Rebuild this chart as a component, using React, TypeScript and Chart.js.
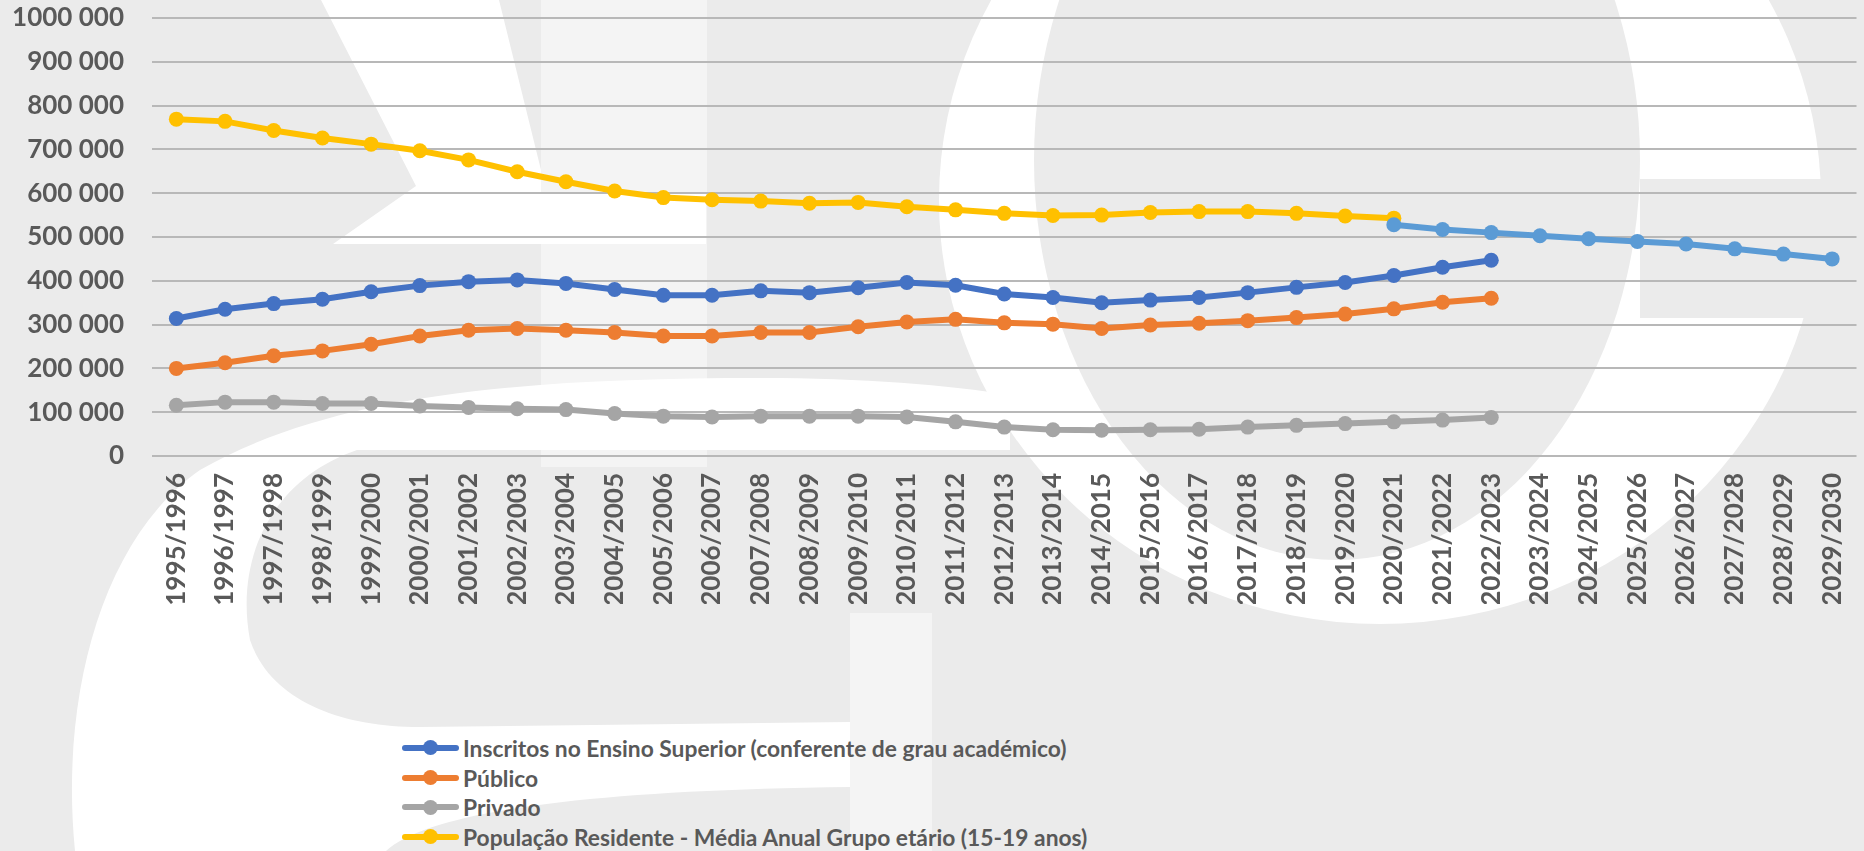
import React, { useEffect, useRef } from "react";
import { Chart, registerables } from "chart.js";
Chart.register(...registerables);

const categories = [
  "1995/1996", "1996/1997", "1997/1998", "1998/1999", "1999/2000", "2000/2001", "2001/2002",
  "2002/2003", "2003/2004", "2004/2005", "2005/2006", "2006/2007", "2007/2008", "2008/2009",
  "2009/2010", "2010/2011", "2011/2012", "2012/2013", "2013/2014", "2014/2015", "2015/2016",
  "2016/2017", "2017/2018", "2018/2019", "2019/2020", "2020/2021", "2021/2022", "2022/2023",
  "2023/2024", "2024/2025", "2025/2026", "2026/2027", "2027/2028", "2028/2029", "2029/2030",
];

const inscritos = [
  314000, 335000, 348000, 358000, 375000, 389000, 398000, 402000, 394000, 380000, 367000, 367000,
  377000, 373000, 384000, 396000, 390000, 370000, 362000, 350000, 356000, 362000, 373000, 385000,
  396000, 412000, 431000, 447000,
];
const publico = [
  200000, 213000, 229000, 240000, 255000, 274000, 287000, 291000, 287000, 282000, 274000, 274000,
  282000, 282000, 295000, 306000, 312000, 304000, 301000, 291000, 299000, 303000, 309000, 316000,
  324000, 336000, 351000, 360000,
];
const privado = [
  116000, 123000, 123000, 120000, 120000, 114000, 111000, 108000, 106000, 97000, 91000, 89000,
  91000, 91000, 91000, 89000, 78000, 66000, 60000, 59000, 60000, 61000, 66000, 70000, 74000,
  78000, 82000, 88000,
];
const populacao = [
  769000, 764000, 743000, 726000, 712000, 697000, 676000, 649000, 626000, 605000, 590000, 585000,
  582000, 577000, 579000, 569000, 562000, 554000, 549000, 550000, 556000, 558000, 558000, 554000,
  548000, 543000,
];
// projection (from 2020/2021 onward)
const projecaoStart = 25;
const projecao = [528000, 517000, 510000, 503000, 496000, 490000, 484000, 473000, 461000, 450000];

const yTickLabels = [
  "0", "100 000", "200 000", "300 000", "400 000", "500 000",
  "600 000", "700 000", "800 000", "900 000", "1000 000",
];

const seriesNames = [
  "Inscritos no Ensino Superior (conferente de grau académico)",
  "Público",
  "Privado",
  "População Residente - Média Anual Grupo etário (15-19 anos)",
];
const seriesColors = ["#4472C4", "#ED7D31", "#A5A5A5", "#FFC000"];
const projecaoColor = "#5B9BD5";

function pad(arr: number[], start: number, total: number): (number | null)[] {
  const out: (number | null)[] = [];
  for (let i = 0; i < total; i++) {
    const j = i - start;
    out.push(j >= 0 && j < arr.length ? arr[j] : null);
  }
  return out;
}

const GRAY = "#ebebeb";
const LIGHT = "#f4f4f4";

function Watermark() {
  return (
    <svg
      width={1864}
      height={851}
      style={{ position: "absolute", left: 0, top: 0 }}
      xmlns="http://www.w3.org/2000/svg"
    >
      <rect x={0} y={0} width={1864} height={851} fill={GRAY} />
      <rect x={541} y={0} width={166} height={467} fill={LIGHT} />
      <rect x={850} y={613} width={82} height={238} fill={LIGHT} />
      <polygon
        points="321,0 499,0 541,170 541,193 706,193 706,244 333,244 416,186"
        fill="#ffffff"
      />
      <path
        d="M 75 851 C 60 700, 100 540, 200 470 C 330 395, 520 378, 760 378 C 860 378, 950 385, 1010 395 L 1010 450 L 357 450 C 270 480, 235 560, 250 640 C 270 700, 340 727, 420 727 L 850 722 L 850 787 C 600 790, 430 810, 386 851 Z"
        fill="#ffffff"
      />
      <ellipse cx={1380} cy={200} rx={441} ry={424} fill="#ffffff" />
      <ellipse cx={1337} cy={160} rx={303} ry={400} fill={GRAY} />
      <rect x={1640} y={179} width={224} height={139} fill={GRAY} />
    </svg>
  );
}

export default function App() {
  const ref = useRef<HTMLCanvasElement>(null);

  useEffect(() => {
    document.body.style.margin = "0";
    const n = categories.length;
    const mk = (label: string, data: (number | null)[], color: string, order: number) => ({
      label,
      data,
      borderColor: color,
      backgroundColor: color,
      pointBackgroundColor: color,
      pointBorderColor: color,
      borderWidth: 6,
      pointRadius: 7.5,
      pointHoverRadius: 7.5,
      pointBorderWidth: 0,
      fill: false,
      tension: 0,
      spanGaps: false,
      order,
    });
    const axisFont = { family: "Lato, sans-serif", weight: "bold" as const, size: 26 };
    const chart = new Chart(ref.current!, {
      type: "line",
      data: {
        labels: categories,
        datasets: [
          mk(seriesNames[0], pad(inscritos, 0, n), seriesColors[0], 1),
          mk(seriesNames[1], pad(publico, 0, n), seriesColors[1], 1),
          mk(seriesNames[2], pad(privado, 0, n), seriesColors[2], 1),
          mk(seriesNames[3], pad(populacao, 0, n), seriesColors[3], 1),
          mk("Projeção", pad(projecao, projecaoStart, n), projecaoColor, 0),
        ],
      },
      options: {
        animation: false,
        responsive: true,
        maintainAspectRatio: false,
        layout: { padding: { left: 12, right: 4, top: 0, bottom: 0 } },
        plugins: { legend: { display: false }, tooltip: { enabled: false } },
        scales: {
          x: {
            offset: true,
            grid: { display: false, drawTicks: false },
            border: { display: false },
            ticks: {
              minRotation: 90,
              maxRotation: 90,
              autoSkip: false,
              padding: 17,
              color: "#595959",
              font: axisFont,
            },
            afterFit: (s: any) => {
              s.height = 148;
              s.paddingLeft = 0;
              s.paddingRight = 0;
            },
          },
          y: {
            min: 0,
            max: 1000000,
            grid: { color: "#b8b8b8", lineWidth: 2, drawTicks: false },
            border: { display: false },
            ticks: {
              stepSize: 100000,
              padding: 28,
              color: "#595959",
              font: axisFont,
              callback: (_v: any, i: number) => yTickLabels[i],
            },
            afterFit: (s: any) => {
              s.width = 140;
              s.paddingTop = 18;
              s.paddingBottom = 0;
            },
          },
        },
      },
    });
    return () => chart.destroy();
  }, []);

  return (
    <div
      style={{
        position: "relative",
        width: 1864,
        height: 851,
        background: GRAY,
        overflow: "hidden",
      }}
    >
      <Watermark />
      <div style={{ position: "absolute", left: 0, top: 0, width: 1864, height: 604 }}>
        <canvas ref={ref} />
      </div>
      <div style={{ position: "absolute", left: 402, top: 733 }}>
        {seriesNames.map((name, i) => (
          <div
            key={name}
            style={{
              display: "flex",
              alignItems: "center",
              height: 29.7,
              fontFamily: "Lato, sans-serif",
              fontWeight: "bold",
              fontSize: 22.8,
              color: "#595959",
              whiteSpace: "nowrap",
            }}
          >
            <span style={{ position: "relative", width: 57, height: 15, marginRight: 4, display: "inline-block" }}>
              <span
                style={{
                  position: "absolute",
                  left: 0,
                  top: 4.5,
                  width: 57,
                  height: 6,
                  background: seriesColors[i],
                  borderRadius: 3,
                }}
              />
              <span
                style={{
                  position: "absolute",
                  left: 21,
                  top: 0,
                  width: 15,
                  height: 15,
                  borderRadius: 7.5,
                  background: seriesColors[i],
                }}
              />
            </span>
            {name}
          </div>
        ))}
      </div>
    </div>
  );
}
